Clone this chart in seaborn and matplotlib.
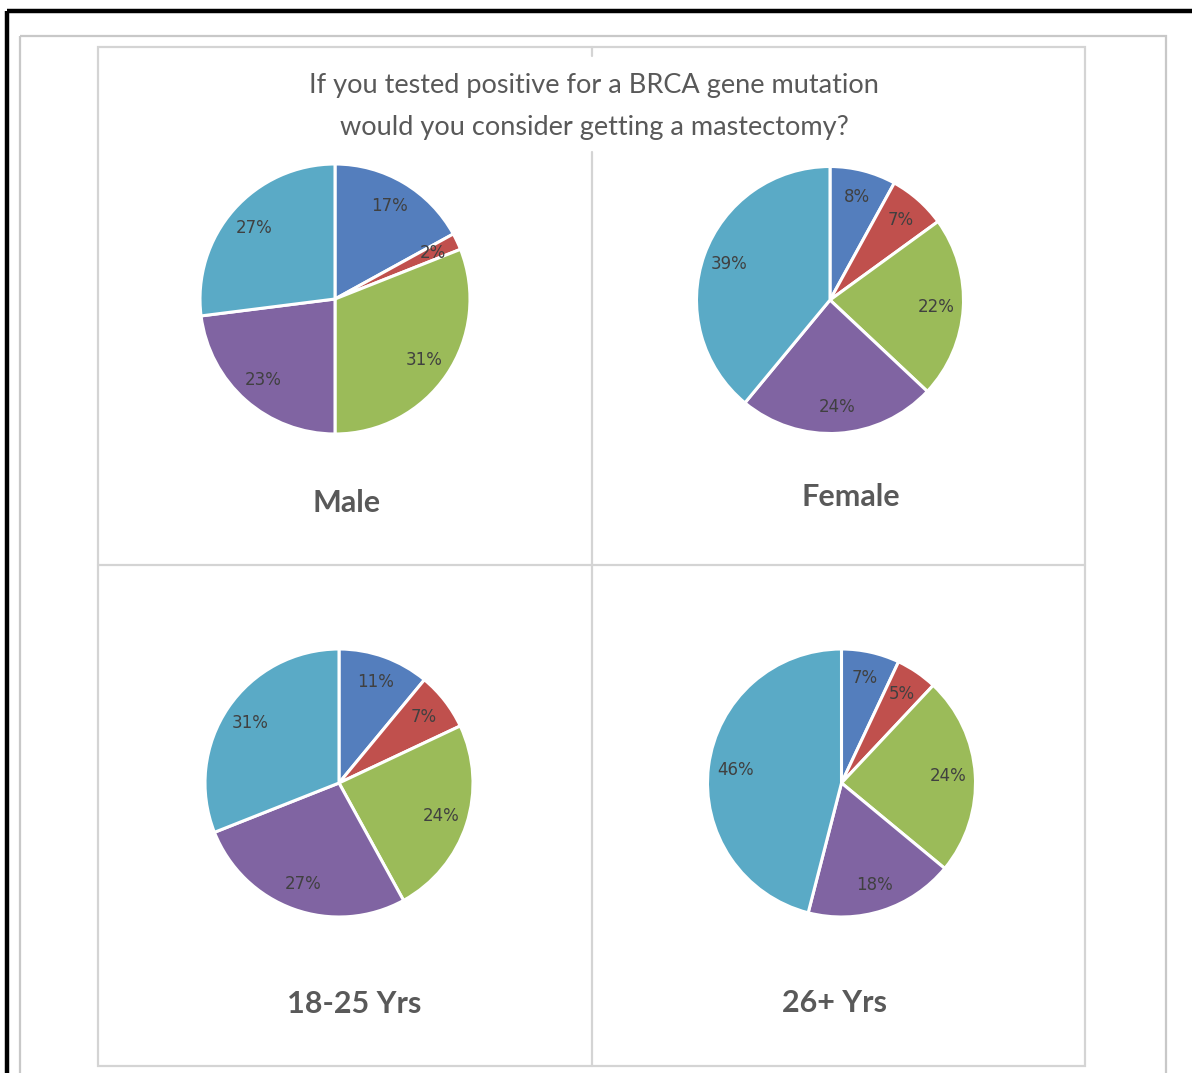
import matplotlib
matplotlib.use("Agg")
import matplotlib.pyplot as plt
import seaborn as sns
from matplotlib.patches import Rectangle

# ---- data ----
groups = ["Male", "Female", "18-25 Yrs", "26+ Yrs"]
male = [17, 2, 31, 23, 27]
female = [8, 7, 22, 24, 39]
age_18_25 = [11, 7, 24, 27, 31]
age_26_plus = [7, 5, 24, 18, 46]
title_lines = ["If you tested positive for a BRCA gene mutation",
               "would you consider getting a mastectomy?"]
slice_colors = ["#547EBD", "#C0504D", "#9BBB59", "#8064A2", "#5AAAC6"]

sns.set_theme(style="white")
plt.rcParams["font.family"] = ["Lato", "DejaVu Sans"]

W, H = 1192, 1073
fig = plt.figure(figsize=(W / 100, H / 100), dpi=100)
fig.patch.set_facecolor("white")

# background axis in pixel coordinates
bg = fig.add_axes([0, 0, 1, 1])
bg.set_xlim(0, W)
bg.set_ylim(H, 0)
bg.axis("off")

# black frame (top and left)
bg.plot([7, W], [10.5, 10.5], color="black", lw=3.2, solid_capstyle="butt")
bg.plot([7, 7], [10.5, H], color="black", lw=3.2, solid_capstyle="butt")
# outer grey rectangle
bg.add_patch(Rectangle((20, 36), 1146, 1100, fill=False, ec="#c8c8c8", lw=1.6))
# inner grey rectangle
bg.add_patch(Rectangle((98, 47), 987, 1019, fill=False, ec="#d4d4d4", lw=1.6))
# dividers
bg.plot([592, 592], [47, 56], color="#d4d4d4", lw=1.6)
bg.plot([592, 592], [152, 1066], color="#d4d4d4", lw=1.6)
bg.plot([98, 1085], [564.5, 564.5], color="#d4d4d4", lw=1.6)

# title
bg.text(594, 86, title_lines[0], ha="center", va="center", fontsize=19.5, color="#595959")
bg.text(594, 127, title_lines[1], ha="center", va="center", fontsize=19.5, color="#595959")

palette = sns.color_palette(slice_colors)
series = [male, female, age_18_25, age_26_plus]
centers = [(335, 299, 135), (830, 300, 133.5), (339, 783, 134), (841.5, 783, 134)]
label_pos = [(347, 503), (851, 497), (354, 1004), (835, 1003)]

for vals, (cx, cy, r), name, (lx, ly) in zip(series, centers, groups, label_pos):
    ax = fig.add_axes([(cx - r) / W, 1 - (cy + r) / H, 2 * r / W, 2 * r / H])
    ax.pie(vals, colors=palette, startangle=90, counterclock=False,
           autopct="%.0f%%", pctdistance=0.8, radius=1,
           wedgeprops=dict(edgecolor="white", linewidth=2.2),
           textprops=dict(color="#404040", fontsize=12, family=["DejaVu Sans"]))
    ax.set_xlim(-1.0, 1.0)
    ax.set_ylim(-1.0, 1.0)
    ax.set_aspect("auto")
    ax.axis("off")
    bg.text(lx, ly, name, ha="center", va="center", fontsize=22,
            fontweight="bold", color="#595959")

fig.savefig("out.png", dpi=100, facecolor="white")
